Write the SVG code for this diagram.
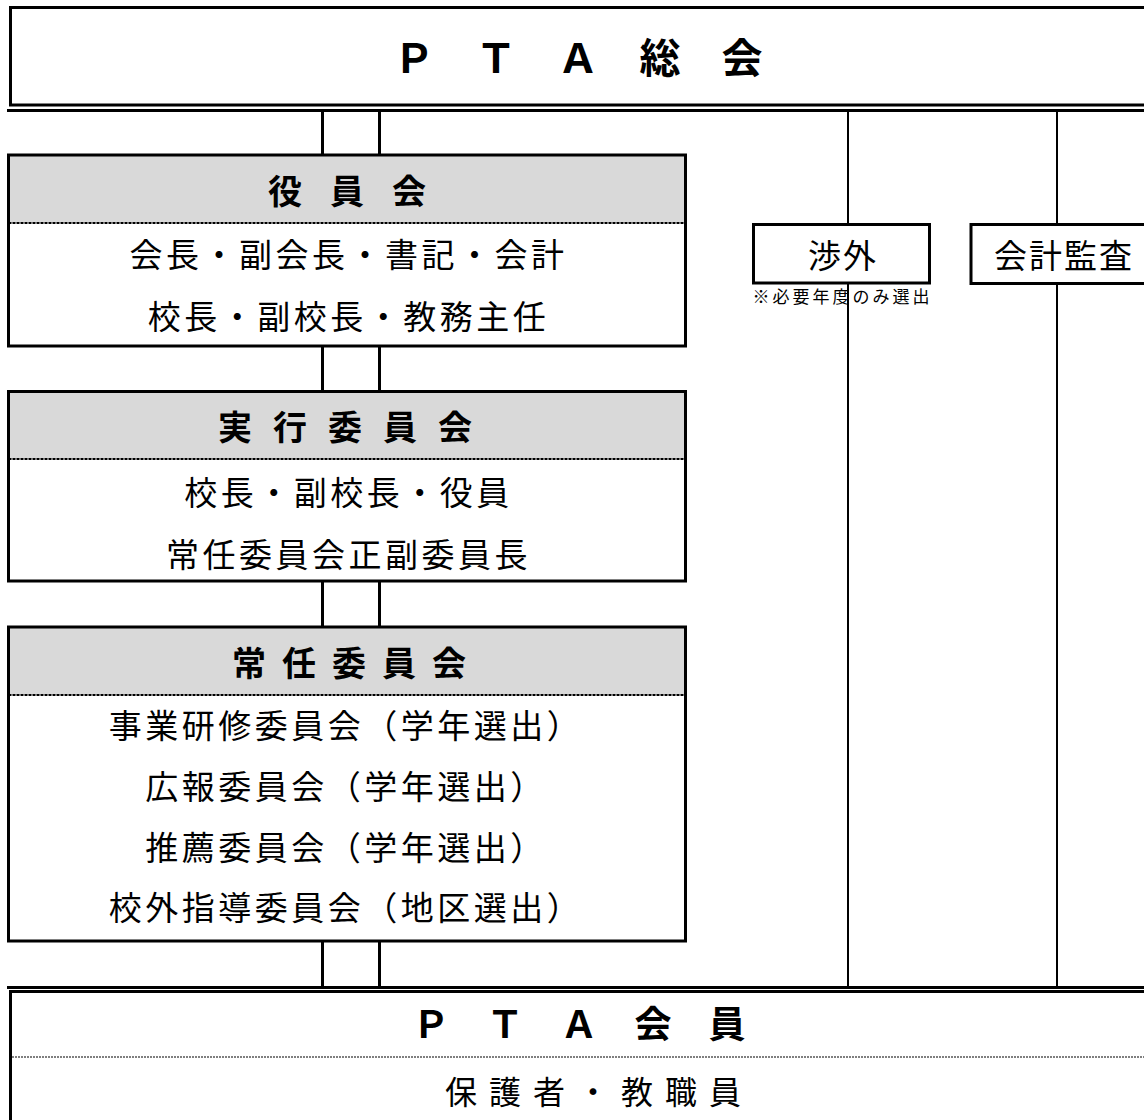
<svg xmlns="http://www.w3.org/2000/svg" width="1144" height="1120" viewBox="0 0 1144 1120">
<style>
.bg{fill:#fff;stroke:none}
.frame{fill:none;stroke:#000;stroke-width:3}
.wbox{fill:#fff;stroke:#000;stroke-width:3}
.hdr{fill:#d9d9d9;stroke:none}
.dash{stroke:#000;stroke-width:2;stroke-dasharray:3 1}
.gdash{stroke:#7f7f7f;stroke-width:2;stroke-dasharray:2 1}
.t{font-family:"Noto Sans CJK JP","Noto Sans CJK SC",sans-serif;fill:#000;text-anchor:middle}
.body{font-size:33px;letter-spacing:3.5px}
.head{font-size:34px;font-weight:bold}
.big{font-weight:bold}
.small{font-size:17px;letter-spacing:3px}
.conn{stroke:#000;stroke-width:3;fill:none}
.thin{stroke:#000;stroke-width:2;fill:none}
</style>
<rect x="0" y="0" width="1144" height="1120" fill="#fff"/>

<g id="connectors">
  <line class="thin" x1="848" y1="111" x2="848" y2="987"/>
  <line class="thin" x1="1057" y1="111" x2="1057" y2="987"/>
  <line class="conn" x1="7" y1="110.5" x2="1150" y2="110.5"/>
  <line class="conn" x1="7" y1="987.5" x2="1150" y2="987.5"/>
  <line class="conn" x1="322.5" y1="111" x2="322.5" y2="155"/>
  <line class="conn" x1="379.5" y1="111" x2="379.5" y2="155"/>
  <line class="conn" x1="322.5" y1="346" x2="322.5" y2="391"/>
  <line class="conn" x1="379.5" y1="346" x2="379.5" y2="391"/>
  <line class="conn" x1="322.5" y1="581" x2="322.5" y2="627"/>
  <line class="conn" x1="379.5" y1="581" x2="379.5" y2="627"/>
  <line class="conn" x1="322.5" y1="941" x2="322.5" y2="987"/>
  <line class="conn" x1="379.5" y1="941" x2="379.5" y2="987"/>
</g>

<g id="pta-soukai">
  <rect class="wbox" x="10.5" y="7.5" width="1145" height="97.5"/>
  <text class="t big" x="578" y="72.5" font-size="41">Ｐ　Ｔ　Ａ　総　会</text>
</g>

<g id="yakuinkai">
  <rect class="bg" x="8.5" y="155" width="677" height="191"/>
  <rect class="hdr" x="8.5" y="155" width="677" height="68"/>
  <line class="dash" x1="8.5" y1="223" x2="685.5" y2="223"/>
  <rect class="frame" x="8.5" y="155" width="677" height="191"/>
  <text class="t head" x="285 347 409" y="204">役員会</text>
  <text class="t body" x="348.5" y="267">会長・副会長・書記・会計</text>
  <text class="t body" x="348.5" y="329">校長・副校長・教務主任</text>
</g>

<g id="jikkou-iinkai">
  <rect class="bg" x="8.5" y="391.5" width="677" height="189.5"/>
  <rect class="hdr" x="8.5" y="391.5" width="677" height="67.5"/>
  <line class="dash" x1="8.5" y1="459" x2="685.5" y2="459"/>
  <rect class="frame" x="8.5" y="391.5" width="677" height="189.5"/>
  <text class="t head" x="235 290 345 400 455" y="440">実行委員会</text>
  <text class="t body" x="348.5" y="505">校長・副校長・役員</text>
  <text class="t body" x="348.5" y="567">常任委員会正副委員長</text>
</g>

<g id="jounin-iinkai">
  <rect class="bg" x="8.5" y="627" width="677" height="314"/>
  <rect class="hdr" x="8.5" y="627" width="677" height="68"/>
  <line class="dash" x1="8.5" y1="695" x2="685.5" y2="695"/>
  <rect class="frame" x="8.5" y="627" width="677" height="314"/>
  <text class="t head" x="249 299 349 399 449" y="676">常任委員会</text>
  <text class="t body" x="346" y="738">事業研修委員会（学年選出）</text>
  <text class="t body" x="346" y="799">広報委員会（学年選出）</text>
  <text class="t body" x="346" y="860">推薦委員会（学年選出）</text>
  <text class="t body" x="346" y="920">校外指導委員会（地区選出）</text>
</g>

<g id="shougai">
  <rect class="wbox" x="753.5" y="224.5" width="176" height="58.5"/>
  <text class="t" x="843" y="268" font-size="33" letter-spacing="2">渉外</text>
  <text class="t small" x="842.5" y="303">※必要年度のみ選出</text>
</g>

<g id="kaikei-kansa">
  <rect class="wbox" x="971" y="224.5" width="200" height="59"/>
  <text class="t" x="1064" y="268" font-size="33" letter-spacing="2">会計監査</text>
</g>

<g id="pta-kaiin">
  <rect class="wbox" x="10.5" y="991.5" width="1145" height="140"/>
  <line class="gdash" x1="12" y1="1057" x2="1150" y2="1057"/>
  <text class="t big" x="579" y="1038" font-size="37">Ｐ　Ｔ　Ａ　会　員</text>
  <text class="t" x="599" y="1104" font-size="32" letter-spacing="12">保護者・教職員</text>
</g>
</svg>
